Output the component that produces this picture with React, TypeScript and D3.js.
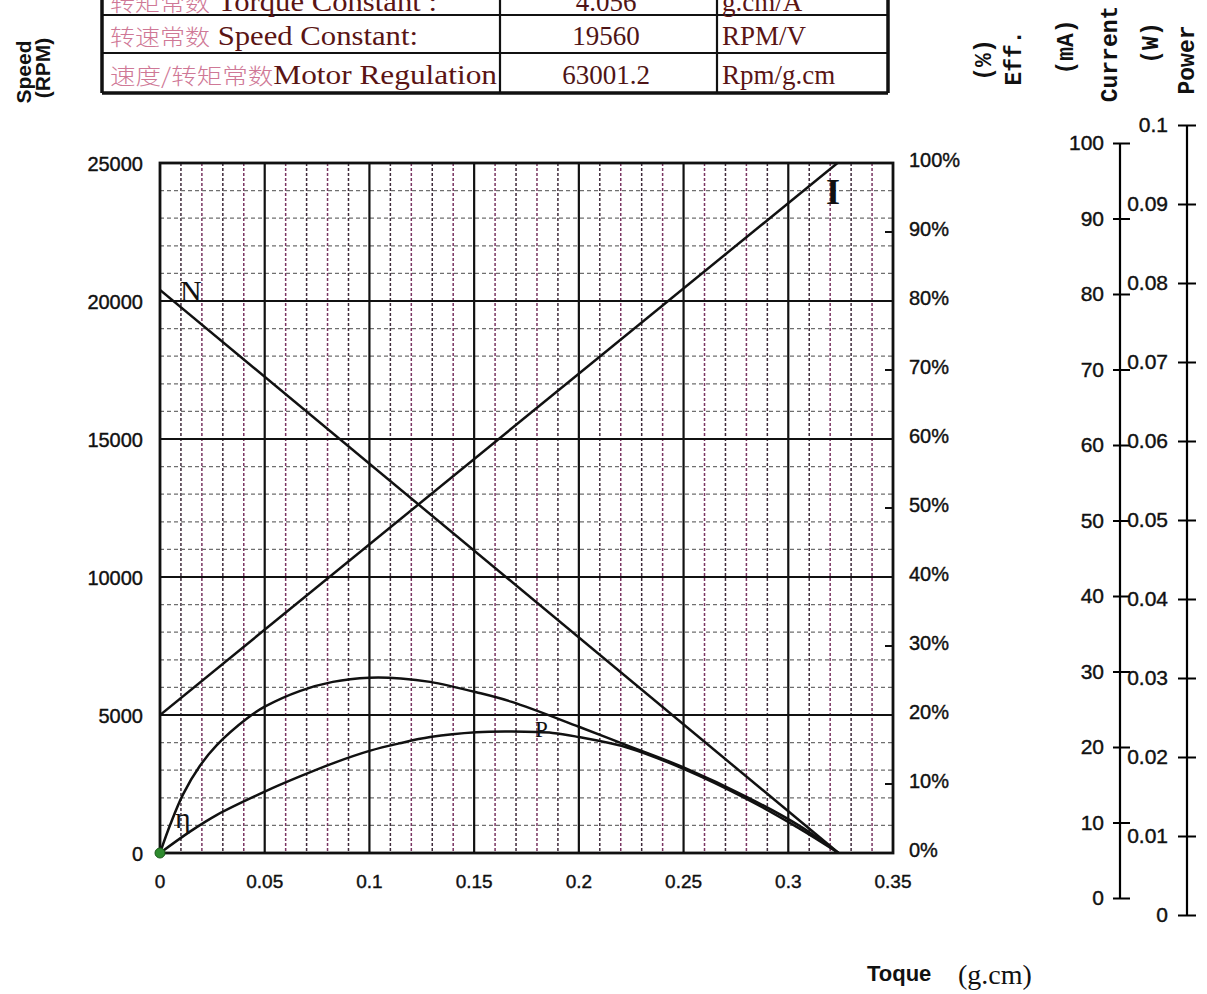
import React, { useEffect, useRef } from 'react';
import * as d3 from 'd3';

// motor parameter table (top rows, first one is cut off by the page edge)
const paramCN = ['转矩常数', '转速常数', '速度/转矩常数'];
const paramEN = [' Torque Constant :', ' Speed Constant:', 'Motor Regulation'];
const paramValue = ['4.056', '19560', '63001.2'];
const paramUnit = ['g.cm/A', 'RPM/V', 'Rpm/g.cm'];

// axis ticks
const torqueTicks = [0, 0.05, 0.1, 0.15, 0.2, 0.25, 0.3, 0.35];
const speedTicks = [0, 5000, 10000, 15000, 20000, 25000];
const effTicks = [0, 10, 20, 30, 40, 50, 60, 70, 80, 90, 100];
const currentTicks = [0, 10, 20, 30, 40, 50, 60, 70, 80, 90, 100];
const powerTicks = [0, 0.01, 0.02, 0.03, 0.04, 0.05, 0.06, 0.07, 0.08, 0.09, 0.1];

// N : speed (RPM)
const speedTorque = [0, 0.324];
const speedRpm = [20400, 0];

// I : current (mA)
const currentTorque = [0, 0.3235];
const currentMa = [20, 100];

// η : efficiency (%)
const effTorque = [0, 0.005, 0.011, 0.019, 0.027, 0.0415, 0.05, 0.067, 0.0825, 0.1, 0.115, 0.129, 0.151, 0.168, 0.2, 0.223, 0.25, 0.281, 0.305, 0.324];
const effPct = [0, 4.2, 8.5, 12.6, 15.6, 19.5, 21.2, 23.5, 24.8, 25.4, 25.3, 24.8, 23.3, 21.9, 18.3, 15.6, 12.4, 8.0, 4.0, 0];

// P : output power (W)
const powerTorque = [0, 0.0143, 0.027, 0.05, 0.0668, 0.0825, 0.1, 0.1145, 0.129, 0.151, 0.168, 0.1875, 0.2, 0.223, 0.25, 0.281, 0.305, 0.324];
const powerW = [0, 0.0031, 0.0055, 0.0089, 0.0111, 0.0130, 0.0148, 0.0159, 0.0168, 0.0175, 0.0176, 0.0174, 0.0168, 0.0153, 0.0122, 0.0077, 0.0036, 0];

const width = 1207;
const height = 994;
const plot = { left: 160, right: 893, top: 163, bottom: 853 };

const App = () => {
  const svgRef = useRef(null);

  useEffect(() => {
    const svg = d3.select(svgRef.current);
    svg.selectAll('*').remove();

    const x = d3.scaleLinear().domain([0, 0.35]).range([plot.left, plot.right]);
    const ySpeed = d3.scaleLinear().domain([0, 25000]).range([plot.bottom, plot.top]);
    const yEff = d3.scaleLinear().domain([0, 100]).range([plot.bottom, plot.top]);
    const yCur = d3.scaleLinear().domain([0, 100]).range([plot.bottom, plot.top]);
    const yPow = d3.scaleLinear().domain([0, 0.1]).range([plot.bottom, plot.top]);

    const curAxisScale = d3.scaleLinear().domain([0, 100]).range([898, 143]);
    const powAxisScale = d3.scaleLinear().domain([0, 0.1]).range([915, 125]);

    const sans = 'Liberation Sans, Arial, sans-serif';
    const serif = 'Liberation Serif, Times New Roman, serif';
    const mono = 'Liberation Mono, Courier New, monospace';

    // ---- table ----
    const table = svg.append('g');
    const rowY = [-25, 15, 53, 93];
    const colX = [102, 500, 717, 888];
    rowY.forEach((y, i) => {
      table.append('line')
        .attr('x1', colX[0]).attr('x2', colX[3])
        .attr('y1', y).attr('y2', y)
        .attr('stroke', '#111')
        .attr('stroke-width', i === rowY.length - 1 ? 3.5 : 2.2);
    });
    colX.forEach((cx, i) => {
      table.append('line')
        .attr('x1', cx).attr('x2', cx)
        .attr('y1', rowY[0]).attr('y2', rowY[3])
        .attr('stroke', '#111')
        .attr('stroke-width', i === 0 || i === 3 ? 3.5 : 2.2);
    });
    const baseY = [11, 45, 84];
    const firstColLen = [327, 308, 387];
    paramCN.forEach((cn, i) => {
      const t = table.append('text')
        .attr('x', 110)
        .attr('y', baseY[i])
        .attr('textLength', firstColLen[i])
        .attr('lengthAdjust', 'spacingAndGlyphs');
      t.append('tspan')
        .attr('font-family', 'Noto Sans CJK SC')
        .attr('font-weight', 300)
        .attr('font-size', 22)
        .attr('fill', '#cf7896')
        .text(cn);
      t.append('tspan')
        .attr('font-family', serif)
        .attr('font-size', 27)
        .attr('fill', '#5a1414')
        .text(paramEN[i]);
      table.append('text')
        .attr('x', 606).attr('y', baseY[i])
        .attr('text-anchor', 'middle')
        .attr('font-family', serif).attr('font-size', 27)
        .attr('fill', '#4e1416')
        .text(paramValue[i]);
      table.append('text')
        .attr('x', 722).attr('y', baseY[i])
        .attr('font-family', serif).attr('font-size', 27)
        .attr('fill', '#5a1414')
        .text(paramUnit[i]);
    });

    // ---- grid ----
    const grid = svg.append('g');
    for (let i = 1; i < 35; i++) {
      if (i % 5 === 0) continue;
      grid.append('line')
        .attr('x1', x(i / 100)).attr('x2', x(i / 100))
        .attr('y1', plot.top).attr('y2', plot.bottom)
        .attr('stroke', i % 2 ? '#3e2a3a' : '#7a3562')
        .attr('stroke-width', 1.5)
        .attr('stroke-dasharray', '3,2');
    }
    for (let i = 1; i < 25; i++) {
      if (i % 5 === 0) continue;
      grid.append('line')
        .attr('x1', plot.left).attr('x2', plot.right)
        .attr('y1', ySpeed(i * 1000)).attr('y2', ySpeed(i * 1000))
        .attr('stroke', '#6f6f6f')
        .attr('stroke-width', 1.3)
        .attr('stroke-dasharray', '4,3');
    }
    torqueTicks.slice(1, -1).forEach(t => {
      grid.append('line')
        .attr('x1', x(t)).attr('x2', x(t))
        .attr('y1', plot.top).attr('y2', plot.bottom)
        .attr('stroke', '#111').attr('stroke-width', 2.2);
    });
    speedTicks.slice(1, -1).forEach(s => {
      grid.append('line')
        .attr('x1', plot.left).attr('x2', plot.right)
        .attr('y1', ySpeed(s)).attr('y2', ySpeed(s))
        .attr('stroke', '#111').attr('stroke-width', 2.2);
    });
    grid.append('rect')
      .attr('x', plot.left).attr('y', plot.top)
      .attr('width', plot.right - plot.left)
      .attr('height', plot.bottom - plot.top)
      .attr('fill', 'none')
      .attr('stroke', '#111')
      .attr('stroke-width', 2.8);

    // efficiency ticks on right border
    effTicks.forEach(e => {
      grid.append('line')
        .attr('x1', plot.right - 8).attr('x2', plot.right)
        .attr('y1', yEff(e)).attr('y2', yEff(e))
        .attr('stroke', '#111').attr('stroke-width', 2);
    });

    // ---- axis labels ----
    const labels = svg.append('g')
      .attr('font-family', sans)
      .attr('fill', '#111')
      .attr('stroke', '#111')
      .attr('stroke-width', 0.4);
    speedTicks.forEach(s => {
      labels.append('text')
        .attr('x', 143).attr('y', ySpeed(s) + 8)
        .attr('text-anchor', 'end')
        .attr('font-size', 20)
        .text(String(s));
    });
    torqueTicks.forEach(t => {
      labels.append('text')
        .attr('x', x(t)).attr('y', 888)
        .attr('text-anchor', 'middle')
        .attr('font-size', 19)
        .text(String(t));
    });
    effTicks.forEach(e => {
      labels.append('text')
        .attr('x', 909).attr('y', yEff(e) + 4)
        .attr('font-size', 20)
        .text(e + '%');
    });

    // current axis
    const curAxis = d3.axisLeft(curAxisScale)
      .tickValues(currentTicks)
      .tickSize(7)
      .tickPadding(9)
      .tickFormat(d => String(d));
    svg.append('g')
      .attr('transform', 'translate(1120,0)')
      .call(curAxis)
      .call(g => g.select('.domain').attr('d', `M0,${curAxisScale(100)}V${curAxisScale(0)}`).attr('stroke-width', 2.2))
      .call(g => g.selectAll('.tick line').attr('x1', 10).attr('stroke-width', 2))
      .call(g => g.selectAll('.tick text')
        .attr('font-size', 21).attr('font-family', sans)
        .attr('fill', '#111').attr('stroke', '#111').attr('stroke-width', 0.4));

    // power axis
    const powAxis = d3.axisLeft(powAxisScale)
      .tickValues(powerTicks)
      .tickSize(9)
      .tickPadding(10)
      .tickFormat(d => String(+(+d).toFixed(2)));
    svg.append('g')
      .attr('transform', 'translate(1187,0)')
      .call(powAxis)
      .call(g => g.select('.domain').attr('d', `M0,${powAxisScale(0.1)}V${powAxisScale(0)}`).attr('stroke-width', 2.2))
      .call(g => g.selectAll('.tick line').attr('x1', 9).attr('stroke-width', 2))
      .call(g => g.selectAll('.tick text')
        .attr('font-size', 21).attr('font-family', sans)
        .attr('fill', '#111').attr('stroke', '#111').attr('stroke-width', 0.4));

    // rotated titles
    const vtitle = (txt: string, bx: number, cy: number, font: string, size: number, weight: string) => {
      svg.append('text')
        .attr('transform', `translate(${bx},${cy}) rotate(-90)`)
        .attr('text-anchor', 'middle')
        .attr('font-family', font)
        .attr('font-size', size)
        .attr('font-weight', weight)
        .attr('fill', '#111')
        .text(txt);
    };
    vtitle('Speed', 31, 72, sans, 21, 'bold');
    vtitle('(RPM)', 50, 68, sans, 21, 'bold');
    vtitle('(%)', 991, 60, mono, 23, 'bold');
    vtitle('Eff.', 1021, 58, mono, 23, 'bold');
    vtitle('(mA)', 1073, 47, mono, 23, 'bold');
    vtitle('Current', 1117, 54, mono, 23, 'bold');
    vtitle('(W)', 1158, 43, mono, 23, 'bold');
    vtitle('Power', 1194, 60, mono, 23, 'bold');

    svg.append('text')
      .attr('x', 867).attr('y', 981)
      .attr('font-family', sans).attr('font-weight', 'bold').attr('font-size', 22)
      .attr('fill', '#111')
      .text('Toque');
    svg.append('text')
      .attr('x', 958).attr('y', 984)
      .attr('font-family', serif).attr('font-size', 28)
      .attr('fill', '#111')
      .text('(g.cm)');

    // ---- curves ----
    const clip = svg.append('clipPath').attr('id', 'plot-clip');
    clip.append('rect')
      .attr('x', plot.left).attr('y', plot.top)
      .attr('width', plot.right - plot.left)
      .attr('height', plot.bottom - plot.top);

    const curves = svg.append('g').attr('clip-path', 'url(#plot-clip)');
    const drawLine = (xs: number[], ys: number[], yScale: any, curve: any) => {
      const line = d3.line<number>()
        .x((_, i) => x(xs[i]))
        .y(d => yScale(d))
        .curve(curve);
      curves.append('path')
        .attr('d', line(ys))
        .attr('fill', 'none')
        .attr('stroke', '#111')
        .attr('stroke-width', 2.5)
        .attr('stroke-linejoin', 'round');
    };
    drawLine(speedTorque, speedRpm, ySpeed, d3.curveLinear);
    drawLine(currentTorque, currentMa, yCur, d3.curveLinear);
    drawLine(effTorque, effPct, yEff, d3.curveCatmullRom.alpha(0.5));
    drawLine(powerTorque, powerW, yPow, d3.curveCatmullRom.alpha(0.5));

    // curve names
    const names = svg.append('g').attr('font-family', serif).attr('fill', '#111');
    names.append('text').attr('x', 180).attr('y', 301).attr('font-size', 30).text('N');
    names.append('text').attr('x', 833).attr('y', 204).attr('text-anchor', 'middle')
      .attr('font-size', 36).attr('font-weight', 'bold').text('I');
    names.append('text').attr('x', 535).attr('y', 737).attr('font-size', 23).text('P');
    names.append('text').attr('x', 175).attr('y', 828).attr('font-size', 30).text('η');

    // origin dot
    svg.append('circle')
      .attr('cx', x(0)).attr('cy', ySpeed(0))
      .attr('r', 5)
      .attr('fill', '#2e8b2e')
      .attr('stroke', '#1a5a1a');
  }, []);

  return (
    <svg
      ref={svgRef}
      width={width}
      height={height}
      style={{ position: 'absolute', left: 0, top: 0, background: '#fff' }}
    />
  );
};

export default App;
